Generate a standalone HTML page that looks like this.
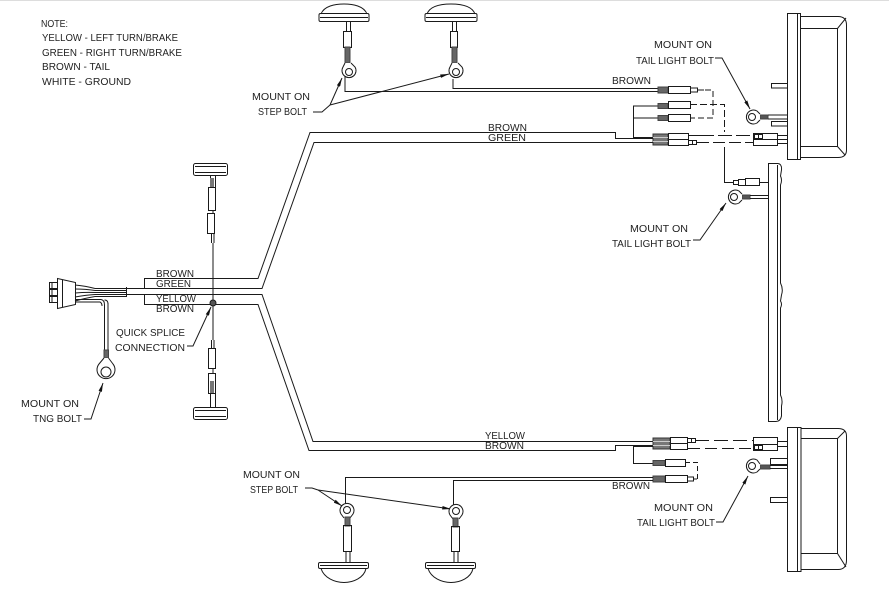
<!DOCTYPE html>
<html><head><meta charset="utf-8"><style>
html,body{margin:0;padding:0;background:#fff;}
svg{display:block;}
text{font-family:"Liberation Sans",sans-serif;font-size:10px;fill:#222;}
</style></head><body>
<svg width="889" height="593" viewBox="0 0 889 593" xmlns="http://www.w3.org/2000/svg">
<defs>
<marker id="a" viewBox="0 0 10 4" refX="10" refY="2" markerWidth="9" markerHeight="3.5" orient="auto" markerUnits="userSpaceOnUse"><path d="M0,0 L10,2 L0,4 z" fill="#111"/></marker>
</defs>
<rect width="889" height="593" fill="#fff"/>
<line x1="0" y1="0.5" x2="889" y2="0.5" stroke="#ddd"/>

<!-- NOTE -->
<text x="41" y="27" textLength="27" lengthAdjust="spacingAndGlyphs">NOTE:</text>
<text x="42" y="41" textLength="136" lengthAdjust="spacingAndGlyphs">YELLOW - LEFT TURN/BRAKE</text>
<text x="42" y="56" textLength="140" lengthAdjust="spacingAndGlyphs">GREEN - RIGHT TURN/BRAKE</text>
<text x="42" y="70" textLength="68" lengthAdjust="spacingAndGlyphs">BROWN - TAIL</text>
<text x="42" y="85" textLength="89" lengthAdjust="spacingAndGlyphs">WHITE -  GROUND</text>

<g stroke="#1a1a1a" stroke-width="1" fill="none">
<!-- ===== TOP STEP LIGHTS ===== -->
<path d="M321,14 C324,6 335,4 344,4 C353,4 364,6 367,14" />
<rect x="319" y="13.5" width="50" height="8" rx="1.5"/>
<line x1="320" y1="17.5" x2="368" y2="17.5"/>
<rect x="346.5" y="21.5" width="4" height="10"/>
<rect x="343.5" y="31.5" width="8" height="16"/>
<rect x="345" y="47" width="5" height="16" fill="#666" stroke="#444"/>
<path d="M345,63 L343,67 A7,7 0 1 0 355,67 L351,63" fill="#fff"/>
<circle cx="349" cy="72" r="3.5"/>

<path d="M427,14 C430,6 441,4 451,4 C461,4 472,6 475,14" />
<rect x="425" y="13.5" width="52" height="8" rx="1.5"/>
<line x1="426" y1="17.5" x2="476" y2="17.5"/>
<rect x="452.5" y="21.5" width="4" height="10"/>
<rect x="450.5" y="31.5" width="7" height="16"/>
<rect x="452" y="47" width="5" height="16" fill="#666" stroke="#444"/>
<path d="M452,63 L450,67 A7,7 0 1 0 462,67 L458,63" fill="#fff"/>
<circle cx="456" cy="72" r="3.5"/>

<!-- wires from top step lights -->
<path d="M345,76 L345,91.5 L658,91.5"/>
<path d="M453,79 L453,88.5 L658,88.5"/>
<path d="M313,112 L322,112 L330,105" />
<path d="M330,105 L342,78" marker-end="url(#a)"/>
<path d="M330,105 L449,74" marker-end="url(#a)"/>

<!-- ===== TOP RIGHT CONNECTORS ===== -->
<rect x="658" y="87" width="10" height="6" fill="#666" stroke="#444"/>
<rect x="668.5" y="86.5" width="22" height="7"/>
<rect x="690.5" y="88" width="7" height="4"/>
<line x1="697" y1="90" x2="704" y2="90"/>
<path d="M705,90 L713,90 L713,118 L690,118" stroke-dasharray="6,3"/>

<path d="M653,137.5 L633.5,137.5 L633.5,106 L658,106"/>
<line x1="633" y1="118" x2="658" y2="118"/>
<rect x="658" y="103.5" width="10" height="5" fill="#666" stroke="#444"/>
<rect x="668.5" y="101.5" width="22" height="7"/>
<rect x="658" y="115.5" width="10" height="5" fill="#666" stroke="#444"/>
<rect x="668.5" y="114.5" width="22" height="7"/>
<path d="M690,104.5 L724.5,104.5 L724.5,132" stroke-dasharray="7,3"/>
<path d="M724.5,147 L724.5,182.5 L733,182.5"/>

<!-- main top connector -->
<rect x="653" y="134" width="15" height="11" fill="#777" stroke="#333"/>
<line x1="653" y1="137.5" x2="668" y2="137.5" stroke="#ccc"/>
<line x1="653" y1="141.5" x2="668" y2="141.5" stroke="#ccc"/>
<rect x="668.5" y="133.5" width="20" height="6"/>
<rect x="668.5" y="139.5" width="20" height="6"/>
<rect x="688.5" y="140.5" width="4" height="4"/>
<rect x="692.5" y="140.5" width="4" height="4"/>
<line x1="688" y1="135.5" x2="700" y2="135.5"/>
<line x1="700" y1="135.5" x2="753" y2="135.5" stroke-dasharray="14,4"/>
<line x1="697" y1="142.5" x2="753" y2="142.5" stroke-dasharray="12,4"/>
<rect x="753.5" y="133.5" width="24" height="12"/>
<rect x="754.5" y="134.5" width="4" height="4"/>
<rect x="758.5" y="134.5" width="4" height="4"/>
<line x1="754" y1="139.5" x2="777" y2="139.5"/>
<line x1="778" y1="135.5" x2="787" y2="135.5"/>
<line x1="778" y1="139.5" x2="787" y2="139.5"/>
<line x1="778" y1="143.5" x2="787" y2="143.5"/>

<!-- top tail light -->
<rect x="787.5" y="13.5" width="13" height="146"/>
<line x1="797.5" y1="14" x2="797.5" y2="159"/>
<path d="M800.5,16.5 L838,16.5 Q846.5,16.5 846.5,25 L846.5,150 Q846.5,157.5 838,157.5 L800.5,157.5"/>
<path d="M801,28.5 L837.5,28.5 L846,18"/>
<line x1="837.5" y1="28.5" x2="837.5" y2="146.5"/>
<path d="M801,146.5 L837.5,146.5 L845,155"/>
<rect x="771.5" y="83.5" width="16" height="4.5"/>
<rect x="771.5" y="121.5" width="16" height="4.5"/>
<rect x="760" y="115" width="8" height="4" fill="#555" stroke="#444"/>
<line x1="768" y1="115" x2="787" y2="115"/>
<line x1="768" y1="119" x2="787" y2="119"/>
<path d="M760,114 L757,111 A7,7 0 1 0 757,123 L760,120" fill="#fff"/>
<circle cx="752" cy="117" r="3.5"/>
<path d="M715,58 L722,58 L750,109" marker-end="url(#a)"/>

<!-- middle light bar -->
<path d="M768.5,163.5 L778,163.5 Q782,164 781.5,170 L780.5,176 Q782.5,180 780.5,185 L780.5,283 Q783.5,289 781.5,295 L780.5,301 Q782.5,304 780.5,308 L780.5,395 Q783,400 781.5,406 L781.5,416 Q780.5,421.5 776,421.5 L768.5,421.5 Z"/>
<line x1="777.5" y1="165" x2="777.5" y2="420"/>
<rect x="733.5" y="180.5" width="5" height="4"/>
<rect x="738.5" y="179.5" width="7" height="6"/>
<rect x="745.5" y="178.5" width="14" height="7"/>
<line x1="759" y1="182.5" x2="768" y2="182.5"/>
<rect x="742" y="195" width="8" height="4" fill="#555" stroke="#444"/>
<line x1="750" y1="195.5" x2="768" y2="195.5"/>
<line x1="750" y1="198.5" x2="768" y2="198.5"/>
<path d="M742,194 L739,191 A7,7 0 1 0 739,203 L742,200" fill="#fff"/>
<circle cx="734" cy="197" r="3.5"/>
<path d="M693,240 L700,240 L726,203" marker-end="url(#a)"/>

<!-- ===== CABLES ===== -->
<path d="M144.5,288 L144.5,278.5 L258,278.5 L310,132.5 L615.5,132.5 L615.5,138.5 L653,138.5"/>
<path d="M126,288.5 L262,288.5 L314,142.5 L653,142.5"/>
<path d="M126,294.5 L262,294.5 L313,441.5 L653,441.5"/>
<path d="M144.5,294.5 L144.5,304.5 L258,304.5 L309,450.5 L615.5,450.5 L615.5,445.5 L653,445.5"/>

<!-- trailer plug -->
<rect x="49.5" y="282.5" width="8" height="6"/>
<rect x="49.5" y="289.5" width="8" height="6"/>
<rect x="49.5" y="296.5" width="8" height="6"/>
<line x1="52" y1="283" x2="52" y2="302"/>
<path d="M57.5,278.5 L75.5,282.5 L75.5,304.5 L57.5,308.5 Z" fill="#fff"/>
<line x1="62.5" y1="280" x2="62.5" y2="307"/>
<path d="M75,285 Q86,286 95,288.5"/>
<path d="M75,289 Q86,289 95,290.5"/>
<path d="M75,293 Q86,292 95,292.5"/>
<path d="M75,297 Q86,295 95,294.5"/>
<path d="M75,301 Q86,298 95,296.5"/>
<line x1="95" y1="288.5" x2="126" y2="288.5"/>
<line x1="95" y1="290.5" x2="126" y2="290.5"/>
<line x1="95" y1="292.5" x2="126" y2="292.5"/>
<line x1="95" y1="294.5" x2="126" y2="294.5"/>
<line x1="95" y1="296.5" x2="126" y2="296.5"/>
<line x1="126.5" y1="287" x2="126.5" y2="297"/>
<!-- ground wire -->
<path d="M75,299.5 L101,299.5 Q104.5,300 104.5,305 L104.5,350"/>
<path d="M75,302 L100,302 Q102,303 102,306"/>
<line x1="108" y1="303" x2="108" y2="350"/>
<path d="M104.5,300 Q108,300 108,304"/>
<rect x="104" y="350" width="4.5" height="8" fill="#666" stroke="#444"/>
<path d="M104,358 L99,364 A9,9 0 1 0 113,364 L108.5,358" fill="#fff"/>
<circle cx="106" cy="372" r="5"/>
<path d="M84,419 L91,419 L103,383" marker-end="url(#a)"/>

<!-- vertical side lights -->
<rect x="193.5" y="163.5" width="34" height="12" rx="2"/>
<line x1="195" y1="166.5" x2="226" y2="166.5"/>
<line x1="195" y1="172.5" x2="226" y2="172.5"/>
<line x1="210.5" y1="176" x2="210.5" y2="187"/>
<line x1="215.5" y1="176" x2="215.5" y2="187"/>
<rect x="208.5" y="187.5" width="7" height="23"/>
<rect x="210" y="178" width="4" height="9" fill="#777" stroke="none"/>
<line x1="213" y1="210" x2="213" y2="213"/>
<rect x="207.5" y="213.5" width="7" height="20"/>
<line x1="211.5" y1="233" x2="211.5" y2="243"/>
<line x1="214" y1="233" x2="214" y2="243"/>
<line x1="213" y1="243" x2="213" y2="340"/>
<line x1="211.5" y1="340" x2="211.5" y2="348"/>
<line x1="214" y1="340" x2="214" y2="348"/>
<rect x="208.5" y="348.5" width="7" height="20"/>
<line x1="213" y1="368" x2="213" y2="373"/>
<rect x="208.5" y="373.5" width="7" height="20"/>
<rect x="210" y="381" width="4" height="12" fill="#777" stroke="none"/>
<line x1="210.5" y1="394" x2="210.5" y2="407"/>
<line x1="215.5" y1="394" x2="215.5" y2="407"/>
<rect x="193.5" y="407.5" width="34" height="12" rx="2"/>
<line x1="195" y1="410.5" x2="226" y2="410.5"/>
<line x1="195" y1="416.5" x2="226" y2="416.5"/>
<circle cx="213" cy="303" r="3" fill="#555"/>
<path d="M187,346 L193,346 L211,307" marker-end="url(#a)"/>

<!-- ===== BOTTOM RIGHT CONNECTORS ===== -->
<rect x="653" y="438" width="17" height="11" fill="#777" stroke="#333"/>
<line x1="653" y1="441.5" x2="670" y2="441.5" stroke="#ccc"/>
<line x1="653" y1="445.5" x2="670" y2="445.5" stroke="#ccc"/>
<rect x="670.5" y="437.5" width="17" height="6"/>
<rect x="670.5" y="443.5" width="17" height="6"/>
<rect x="687.5" y="438.5" width="4" height="4"/>
<rect x="691.5" y="438.5" width="4" height="4"/>
<line x1="695" y1="440.5" x2="753" y2="440.5" stroke-dasharray="14,5"/>
<line x1="688" y1="448.5" x2="753" y2="448.5" stroke-dasharray="12,5"/>
<rect x="753.5" y="437.5" width="24" height="13"/>
<rect x="754.5" y="445.5" width="4" height="4"/>
<rect x="758.5" y="445.5" width="4" height="4"/>
<line x1="754" y1="444.5" x2="777" y2="444.5"/>
<line x1="778" y1="441.5" x2="787" y2="441.5"/>
<line x1="778" y1="446.5" x2="787" y2="446.5"/>

<path d="M653,446.5 L633.5,446.5 L633.5,463.5 L653,463.5"/>
<rect x="653" y="460.5" width="12" height="5" fill="#666" stroke="#444"/>
<rect x="665.5" y="459.5" width="20" height="7"/>
<path d="M685,462.5 L697.5,462.5 L697.5,480.5 L697,480.5" stroke-dasharray="5,3"/>

<rect x="653" y="476" width="12" height="6" fill="#666" stroke="#444"/>
<rect x="665.5" y="475.5" width="22" height="7"/>
<rect x="687.5" y="477" width="6" height="4"/>
<line x1="693" y1="479" x2="697" y2="479"/>

<!-- bottom tail light -->
<rect x="787.5" y="427.5" width="13.5" height="144"/>
<line x1="797.5" y1="428" x2="797.5" y2="571"/>
<path d="M801,428.5 L838,428.5 Q846.5,428.5 846.5,436 L846.5,560 Q846.5,569.5 838,569.5 L801,569.5"/>
<path d="M801,438.5 L837.5,438.5 L845,431"/>
<line x1="837.5" y1="438.5" x2="837.5" y2="553.5"/>
<path d="M801,553.5 L837.5,553.5 L846,567"/>
<rect x="770.5" y="458.5" width="17" height="6"/>
<rect x="770.5" y="497.5" width="17" height="5"/>
<rect x="760" y="465" width="10" height="4" fill="#555" stroke="#444"/>
<line x1="770" y1="465.5" x2="787" y2="465.5"/>
<line x1="770" y1="468.5" x2="787" y2="468.5"/>
<path d="M760,464 L757,460 A7,7 0 1 0 757,472 L760,469" fill="#fff"/>
<circle cx="752" cy="466" r="3.5"/>
<path d="M716,522 L723,522 L748,476" marker-end="url(#a)"/>

<!-- ===== BOTTOM STEP LIGHTS ===== -->
<path d="M345.5,503 L345.5,477.5 L653,477.5"/>
<path d="M453.5,505 L453.5,480.5 L653,480.5"/>
<path d="M305,488 L312,488 L318,490"/>
<path d="M318,490 L342,506" marker-end="url(#a)"/>
<path d="M318,490 L451,509" marker-end="url(#a)"/>

<path d="M344,518 L341,514 A7,7 0 1 1 353,514 L350,518" fill="#fff"/>
<circle cx="347" cy="510" r="3.5"/>
<rect x="345" y="517" width="5" height="9" fill="#666" stroke="#444"/>
<rect x="343.5" y="525.5" width="8" height="26"/>
<rect x="346" y="551.5" width="4" height="11"/>
<rect x="318.5" y="562.5" width="50" height="6" rx="1.5"/>
<line x1="320" y1="565.5" x2="367" y2="565.5"/>
<path d="M321,568.5 C324,578 335,582.5 344,582.5 C353,582.5 364,578 366,568.5"/>

<path d="M453,519 L450,515 A7,7 0 1 1 462,515 L459,519" fill="#fff"/>
<circle cx="456" cy="511" r="3.5"/>
<rect x="453" y="518" width="5" height="9" fill="#666" stroke="#444"/>
<rect x="451.5" y="526.5" width="8" height="25"/>
<rect x="454" y="551.5" width="4" height="11"/>
<rect x="425.5" y="562.5" width="50" height="6" rx="1.5"/>
<line x1="427" y1="565.5" x2="474" y2="565.5"/>
<path d="M428,568.5 C431,578 442,582.5 451,582.5 C460,582.5 471,578 473,568.5"/>
</g>

<!-- LABELS -->
<text x="252" y="100" textLength="58" lengthAdjust="spacingAndGlyphs">MOUNT ON</text>
<text x="258" y="115" textLength="49" lengthAdjust="spacingAndGlyphs">STEP BOLT</text>
<text x="612" y="84" textLength="39" lengthAdjust="spacingAndGlyphs">BROWN</text>
<text x="488" y="131" textLength="39" lengthAdjust="spacingAndGlyphs">BROWN</text>
<text x="488" y="141" textLength="38" lengthAdjust="spacingAndGlyphs">GREEN</text>
<text x="654" y="48" textLength="58" lengthAdjust="spacingAndGlyphs">MOUNT ON</text>
<text x="636" y="64" textLength="78" lengthAdjust="spacingAndGlyphs">TAIL LIGHT BOLT</text>
<text x="630" y="232" textLength="58" lengthAdjust="spacingAndGlyphs">MOUNT ON</text>
<text x="612" y="247" textLength="79" lengthAdjust="spacingAndGlyphs">TAIL LIGHT BOLT</text>
<text x="156" y="277" textLength="38" lengthAdjust="spacingAndGlyphs">BROWN</text>
<text x="156" y="287" textLength="35" lengthAdjust="spacingAndGlyphs">GREEN</text>
<text x="156" y="302" textLength="40" lengthAdjust="spacingAndGlyphs">YELLOW</text>
<text x="156" y="312" textLength="38" lengthAdjust="spacingAndGlyphs">BROWN</text>
<text x="116" y="336" textLength="69" lengthAdjust="spacingAndGlyphs">QUICK SPLICE</text>
<text x="115" y="351" textLength="70" lengthAdjust="spacingAndGlyphs">CONNECTION</text>
<text x="21" y="407" textLength="58" lengthAdjust="spacingAndGlyphs">MOUNT ON</text>
<text x="33" y="422" textLength="49" lengthAdjust="spacingAndGlyphs">TNG BOLT</text>
<text x="485" y="439" textLength="40" lengthAdjust="spacingAndGlyphs">YELLOW</text>
<text x="485" y="449" textLength="39" lengthAdjust="spacingAndGlyphs">BROWN</text>
<text x="612" y="489" textLength="38" lengthAdjust="spacingAndGlyphs">BROWN</text>
<text x="654" y="511" textLength="59" lengthAdjust="spacingAndGlyphs">MOUNT ON</text>
<text x="637" y="526" textLength="78" lengthAdjust="spacingAndGlyphs">TAIL LIGHT BOLT</text>
<text x="243" y="478" textLength="57" lengthAdjust="spacingAndGlyphs">MOUNT ON</text>
<text x="250" y="493" textLength="48" lengthAdjust="spacingAndGlyphs">STEP BOLT</text>
</svg>
</body></html>
